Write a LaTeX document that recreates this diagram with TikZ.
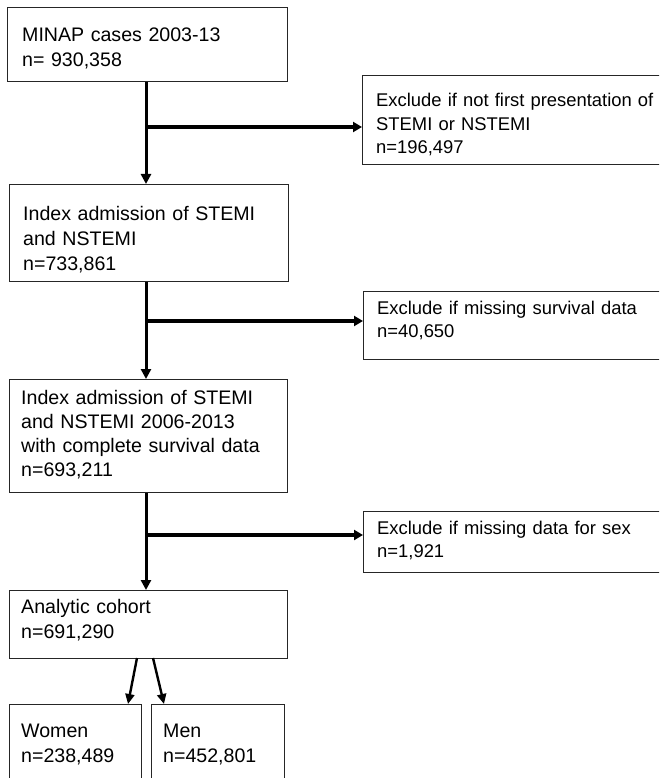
\documentclass[tikz,border=0pt]{standalone}
\usepackage{fontspec}
\setmainfont{Liberation Sans}
\usetikzlibrary{arrows.meta}
\begin{document}
\begin{tikzpicture}[x=1pt,y=-1pt,
  box/.style={draw=black!85, line width=1.3pt, rectangle, anchor=north west, inner sep=0pt},
  ltxt/.style={anchor=base west, inner sep=0pt, text width=265pt, align=left, font=\fontsize{19.6}{25}\selectfont},
  rtxt/.style={anchor=base west, inner sep=0pt, text width=285pt, align=left, font=\fontsize{18.4}{23.5}\selectfont},
  arr/.style={line width=3pt, -{Triangle[width=10pt,length=10pt]}},
  harr/.style={line width=3.6pt, -{Triangle[width=10pt,length=9pt]}},
  darr/.style={line width=2.4pt, -{Triangle[width=9pt,length=10pt]}}]
\useasboundingbox (0,0) rectangle (659,778);
\fill[white] (0,0) rectangle (659,778);
\begin{scope}
\clip (0,0) rectangle (659,778);
% left column boxes
\node[box, minimum width=280pt, minimum height=74pt] (b1) at (7,7) {};
\node[box, minimum width=279pt, minimum height=97pt] (b2) at (9,184) {};
\node[box, minimum width=278pt, minimum height=113pt] (b3) at (9,379) {};
\node[box, minimum width=278pt, minimum height=68pt] (b4) at (9,590) {};
\node[box, minimum width=132pt, minimum height=90pt] (bw) at (9,704) {};
\node[box, minimum width=133pt, minimum height=90pt] (bm) at (151,704) {};
% exclusion boxes
\node[box, minimum width=310pt, minimum height=89pt] (e1) at (362,75) {};
\node[box, minimum width=310pt, minimum height=68pt] (e2) at (363,291) {};
\node[box, minimum width=310pt, minimum height=61pt] (e3) at (363,511) {};
% texts
\node[ltxt] (t1) at (22,42) {MINAP cases 2003-13\\n= 930,358};
\node[ltxt] (t2) at (23,220) {Index admission of STEMI\\and NSTEMI\\n=733,861};
\node[ltxt, font=\fontsize{19.6}{24}\selectfont] (t3) at (21,404) {Index admission of STEMI\\and NSTEMI 2006-2013\\with complete survival data\\n=693,211};
\node[ltxt] (t4) at (21,613) {Analytic cohort\\n=691,290};
\node[ltxt, text width=120pt] (tw) at (21,737) {Women\\n=238,489};
\node[ltxt, text width=120pt] (tm) at (163,737) {Men\\n=452,801};
\node[rtxt] (u1) at (376,107) {Exclude if not first presentation of\\STEMI or NSTEMI\\n=196,497};
\node[rtxt] (u2) at (377,314) {Exclude if missing survival data\\n=40,650};
\node[rtxt] (u3) at (377,534) {Exclude if missing data for sex\\n=1,921};
% connectors
\coordinate (v) at (146,0);
\coordinate (j1) at (146,127);
\coordinate (j2) at (146,321);
\coordinate (j3) at (146,535);
\draw[arr] (b1.south -| v) -- (b2.north -| v);
\draw[arr] (b2.south -| v) -- (b3.north -| v);
\draw[arr] (b3.south -| v) -- (b4.north -| v);
\draw[harr] (j1) -- (j1 -| e1.west);
\draw[harr] (j2) -- (j2 -| e2.west);
\draw[harr] (j3) -- (j3 -| e3.west);
\coordinate (s1) at (137,658);
\coordinate (s2) at (153,658);
\draw[darr] (s1) -- (bw.north west -| 128,0);
\draw[darr] (s2) -- (bm.north west -| 164,0);
\end{scope}
\end{tikzpicture}
\end{document}
